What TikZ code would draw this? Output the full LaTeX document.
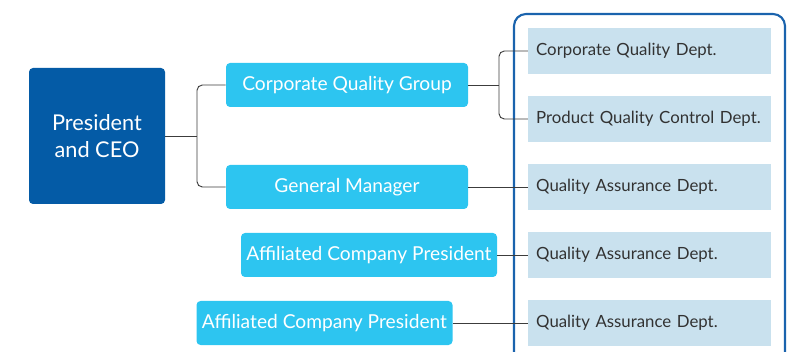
\documentclass[tikz,border=0pt]{standalone}
\usepackage{fontspec}
\setmainfont{Lato}
\usepackage{xcolor}
\usetikzlibrary{positioning, calc}
\definecolor{ceoblue}{RGB}{4, 91, 166}
\definecolor{unitcyan}{RGB}{45, 197, 240}
\definecolor{deptblue}{RGB}{201, 225, 238}
\definecolor{frameblue}{RGB}{26, 99, 173}
\definecolor{linegray}{RGB}{60, 60, 60}
\definecolor{depttext}{RGB}{50, 50, 50}

\begin{document}
\begin{tikzpicture}[
  x=0.75pt, y=-0.75pt,
  ceobox/.style={fill=ceoblue, rounded corners=3pt, minimum width=102pt, minimum height=102pt,
    inner sep=0, align=center, text=white, font=\fontsize{16.3}{20}\selectfont},
  unitbox/.style={fill=unitcyan, rounded corners=3pt, minimum height=33pt, inner sep=0,
    text=white, font=\fontsize{14.4}{17}\selectfont},
  deptbox/.style={fill=deptblue, minimum width=182pt, minimum height=34pt, inner sep=0,
    text width=176pt, align=left, text=depttext, font=\fontsize{12.6}{15}\selectfont,
    execute at begin node={\hspace*{3pt}}},
  conn/.style={draw=linegray, line width=0.7pt},
]

\useasboundingbox (0,0) rectangle (795,352);
\clip (0,0) rectangle (795,352);

% department frame, open at the bottom edge
\draw[frameblue, line width=1.6pt, rounded corners=9pt] (514,14) rectangle (785,372);

% ==================== top level ====================
\node[ceobox] (ceo) at (97,136) {President\\and CEO};

% ==================== units ====================
\node[unitbox, minimum width=181.5pt] (cqg) at (347,85) {Corporate Quality Group};
\node[unitbox, minimum width=181.5pt] (gm) at (347,187) {General Manager};
\node[unitbox, minimum width=192pt] (aff1) at (369,255) {Affiliated Company President};
\node[unitbox, minimum width=192pt] (aff2) at (324.5,323) {Affiliated Company President};

% ==================== departments ====================
\node[deptbox] (cqd) at (649.5,51) {Corporate Quality Dept.};
\node[deptbox] (pqcd) at (649.5,119) {Product Quality Control Dept.};
\node[deptbox] (qad1) at (649.5,187) {Quality Assurance Dept.};
\node[deptbox] (qad2) at (649.5,255) {Quality Assurance Dept.};
\node[deptbox] (qad3) at (649.5,323) {Quality Assurance Dept.};

% ==================== connectors ====================
\coordinate (ceofork) at (197,136);
\coordinate (cqgfork) at (499,85);
\draw[conn] (ceo.east) -- (ceofork);
\draw[conn, rounded corners=4pt] (cqg.west) -| (ceofork) |- (gm.west);
\draw[conn] (cqg.east) -- (cqgfork);
\draw[conn, rounded corners=4pt] (cqd.west) -| (cqgfork) |- (pqcd.west);
\draw[conn] (gm.east) -- (qad1.west);
\draw[conn] (aff1.east) -- (qad2.west);
\draw[conn] (aff2.east) -- (qad3.west);

\end{tikzpicture}
\end{document}
